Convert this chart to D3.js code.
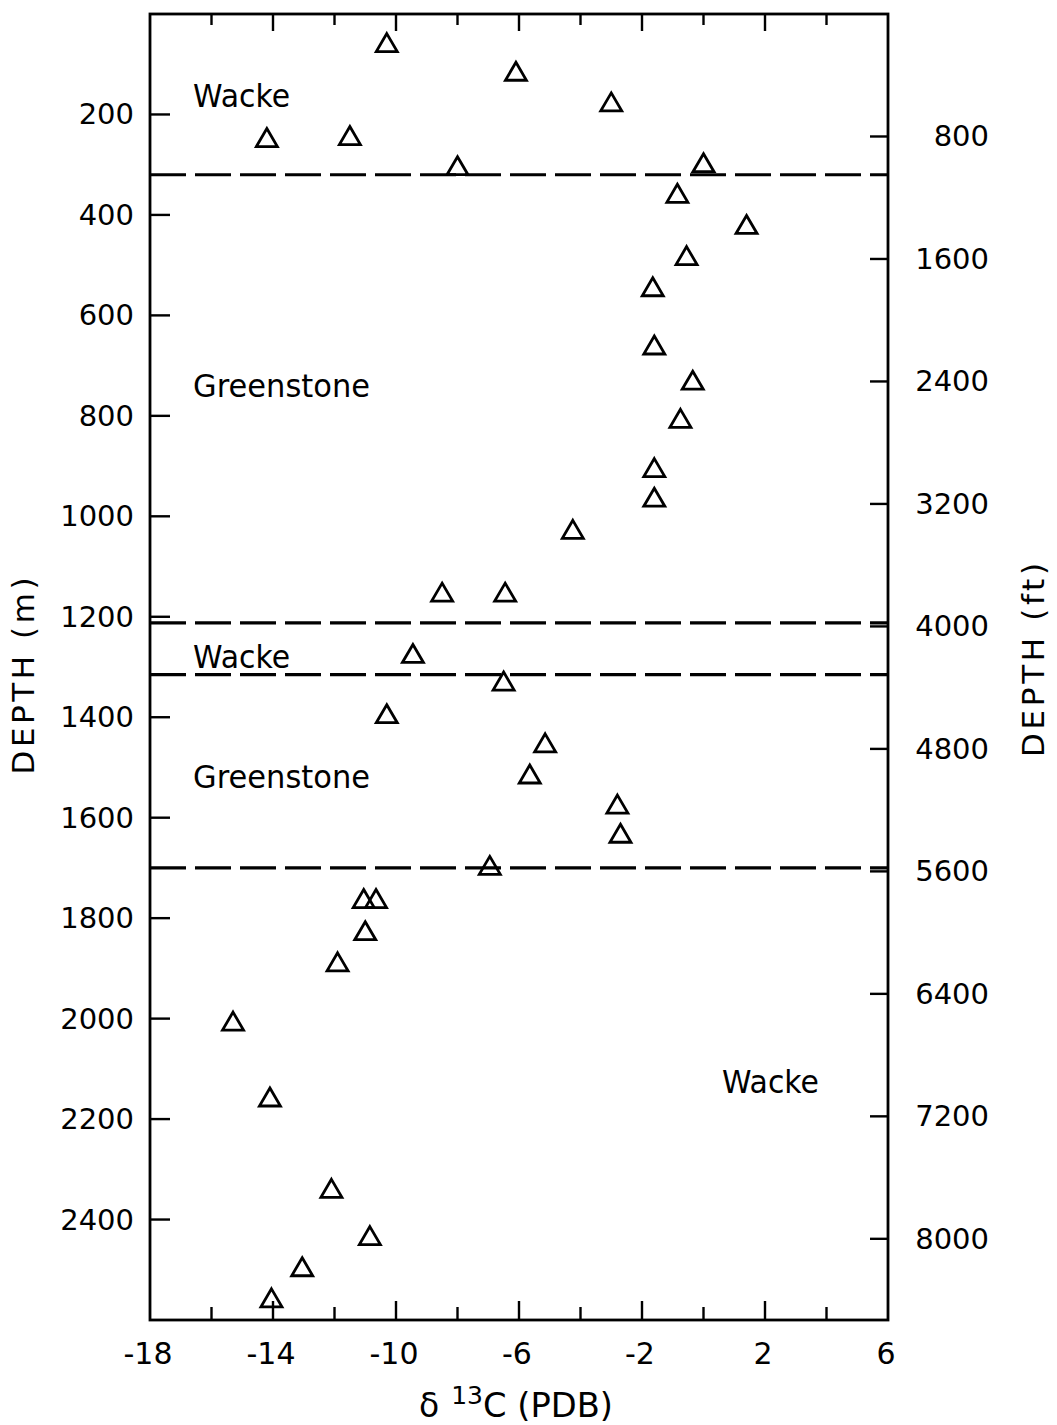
<!DOCTYPE html>
<html>
<head>
<meta charset="utf-8">
<script src="https://cdn.jsdelivr.net/npm/d3@7"></script>
<style>
  body { margin: 0; background: #fff; }
  svg text { font-family: "DejaVu Sans", sans-serif; fill: #000; }
  .frame { fill: none; stroke: #000; stroke-width: 2.8; }
  .tick { stroke: #000; stroke-width: 2.4; }
  .contact { stroke: #000; stroke-width: 3.2; stroke-dasharray: 36 9; }
  .pt { fill: none; stroke: #000; stroke-width: 2.8; stroke-linejoin: miter; }
</style>
</head>
<body>
<svg id="chart" width="1057" height="1425"></svg>
<script>
// delta 13C (PDB) and depth (m) of each sample, read top to bottom
const deltaC = [-10.3, -6.1, -3.0, -14.2, -11.5, -8.0, 0.0, -0.85, 1.4, -0.55, -1.65,
                -1.6, -0.35, -0.75, -1.6, -1.6, -4.25, -8.5, -6.45,
                -9.45, -6.5, -10.3, -5.15, -5.65, -2.8, -2.7, -6.95, -11.05, -10.65, -11.0, -11.9,
                -15.3, -14.1, -12.1, -10.85, -13.05, -14.05];
const depthM = [57, 114, 175, 246, 242, 302, 296, 357, 419, 481, 543,
                659, 729, 805, 903, 962, 1026, 1151, 1151,
                1273, 1328, 1393, 1451, 1513, 1573, 1631, 1695, 1761, 1761, 1825, 1887,
                2005, 2156, 2338, 2432, 2494, 2556];

// lithology contacts (m)
const contactsM = [320, 1212, 1315, 1700];

// unit labels
const unitNames = ["Wacke", "Greenstone", "Wacke", "Greenstone", "Wacke"];
const unitX = [-16.6, -16.6, -16.6, -16.6, 0.6];
const unitDepth = [185, 762, 1302, 1540, 2148];

// axis ticks
const xMajor = [-18, -14, -10, -6, -2, 2, 6];
const xMinor = [-16, -12, -8, -4, 0, 4];
const mTicks = [200, 400, 600, 800, 1000, 1200, 1400, 1600, 1800, 2000, 2200, 2400];
const ftTicks = [800, 1600, 2400, 3200, 4000, 4800, 5600, 6400, 7200, 8000];

const FT_PER_M = 3.28084;

const plotL = 150, plotR = 888, plotT = 14, plotB = 1320;

const x = d3.scaleLinear().domain([-18, 6]).range([plotL, plotR]);
const y = d3.scaleLinear().domain([0, 2600]).range([plotT, plotB]);
const yFt = d3.scaleLinear().domain([0, 2600 * FT_PER_M]).range([plotT, plotB]);

const svg = d3.select("#chart");

// frame
svg.append("rect")
    .attr("class", "frame")
    .attr("x", plotL).attr("y", plotT)
    .attr("width", plotR - plotL).attr("height", plotB - plotT);

// x ticks, inward on top and bottom
let xt = xMajor.map(v => ({v: v, len: 19})).concat(xMinor.map(v => ({v: v, len: 13})));
xt = xt.filter(d => d.v > -18 && d.v < 6);
svg.selectAll(".xtb").data(xt).enter().append("line")
    .attr("class", "tick")
    .attr("x1", d => x(d.v)).attr("x2", d => x(d.v))
    .attr("y1", plotB).attr("y2", d => plotB - d.len);
svg.selectAll(".xtt").data(xt).enter().append("line")
    .attr("class", "tick")
    .attr("x1", d => x(d.v)).attr("x2", d => x(d.v))
    .attr("y1", plotT).attr("y2", d => plotT + d.len - 2);

svg.selectAll(".xlab").data(xMajor).enter().append("text")
    .attr("x", d => x(d) - 2)
    .attr("y", plotB + 44)
    .attr("text-anchor", "middle")
    .attr("font-size", 30)
    .text(d => d);

// left depth axis (m)
svg.selectAll(".ytl").data(mTicks).enter().append("line")
    .attr("class", "tick")
    .attr("x1", plotL).attr("x2", plotL + 20)
    .attr("y1", d => y(d)).attr("y2", d => y(d));
svg.selectAll(".ylab").data(mTicks).enter().append("text")
    .attr("x", 134)
    .attr("y", d => y(d) + 10)
    .attr("text-anchor", "end")
    .attr("font-size", 29)
    .text(d => d);

// right depth axis (ft)
svg.selectAll(".ytr").data(ftTicks).enter().append("line")
    .attr("class", "tick")
    .attr("x1", plotR).attr("x2", plotR - 18)
    .attr("y1", d => yFt(d)).attr("y2", d => yFt(d));
svg.selectAll(".ftlab").data(ftTicks).enter().append("text")
    .attr("x", 989)
    .attr("y", d => yFt(d) + 10)
    .attr("text-anchor", "end")
    .attr("font-size", 29)
    .text(d => d);

// axis titles
svg.append("text")
    .attr("transform", "translate(34,676) rotate(-90)")
    .attr("text-anchor", "middle")
    .attr("font-size", 31)
    .attr("textLength", 197).attr("lengthAdjust", "spacing")
    .text("DEPTH (m)");
svg.append("text")
    .attr("transform", "translate(1044,660) rotate(-90)")
    .attr("text-anchor", "middle")
    .attr("font-size", 31)
    .attr("textLength", 194).attr("lengthAdjust", "spacing")
    .text("DEPTH (ft)");

let xtitle = svg.append("text")
    .attr("x", 419).attr("y", 1417)
    .attr("font-size", 33);
xtitle.append("tspan").text("\u03b4");
xtitle.append("tspan").attr("font-size", 25).attr("dx", 12).attr("dy", -13).text("13");
xtitle.append("tspan").attr("dy", 13).attr("textLength", 130).attr("lengthAdjust", "spacingAndGlyphs")
    .text("C (PDB)");

// lithology contacts
svg.selectAll(".contact").data(contactsM).enter().append("line")
    .attr("class", "contact")
    .attr("x1", x(-18)).attr("x2", x(6))
    .attr("y1", d => y(d)).attr("y2", d => y(d));

// unit names
svg.selectAll(".unit").data(unitNames).enter().append("text")
    .attr("x", (d, i) => x(unitX[i]))
    .attr("y", (d, i) => y(unitDepth[i]))
    .attr("font-size", 32)
    .attr("textLength", d => d === "Wacke" ? 97 : 177)
    .attr("lengthAdjust", "spacingAndGlyphs")
    .text(d => d);

// open triangles, centred on the point
function triangle(w, h) {
    let p = d3.path();
    p.moveTo(0, -h / 2);
    p.lineTo(w / 2, h / 2);
    p.lineTo(-w / 2, h / 2);
    p.closePath();
    return p.toString();
}
const tri = triangle(21, 18);

svg.selectAll(".pt").data(deltaC).enter().append("path")
    .attr("class", "pt")
    .attr("d", tri)
    .attr("transform", (d, i) => "translate(" + x(d) + "," + y(depthM[i]) + ")");
</script>
</body>
</html>
